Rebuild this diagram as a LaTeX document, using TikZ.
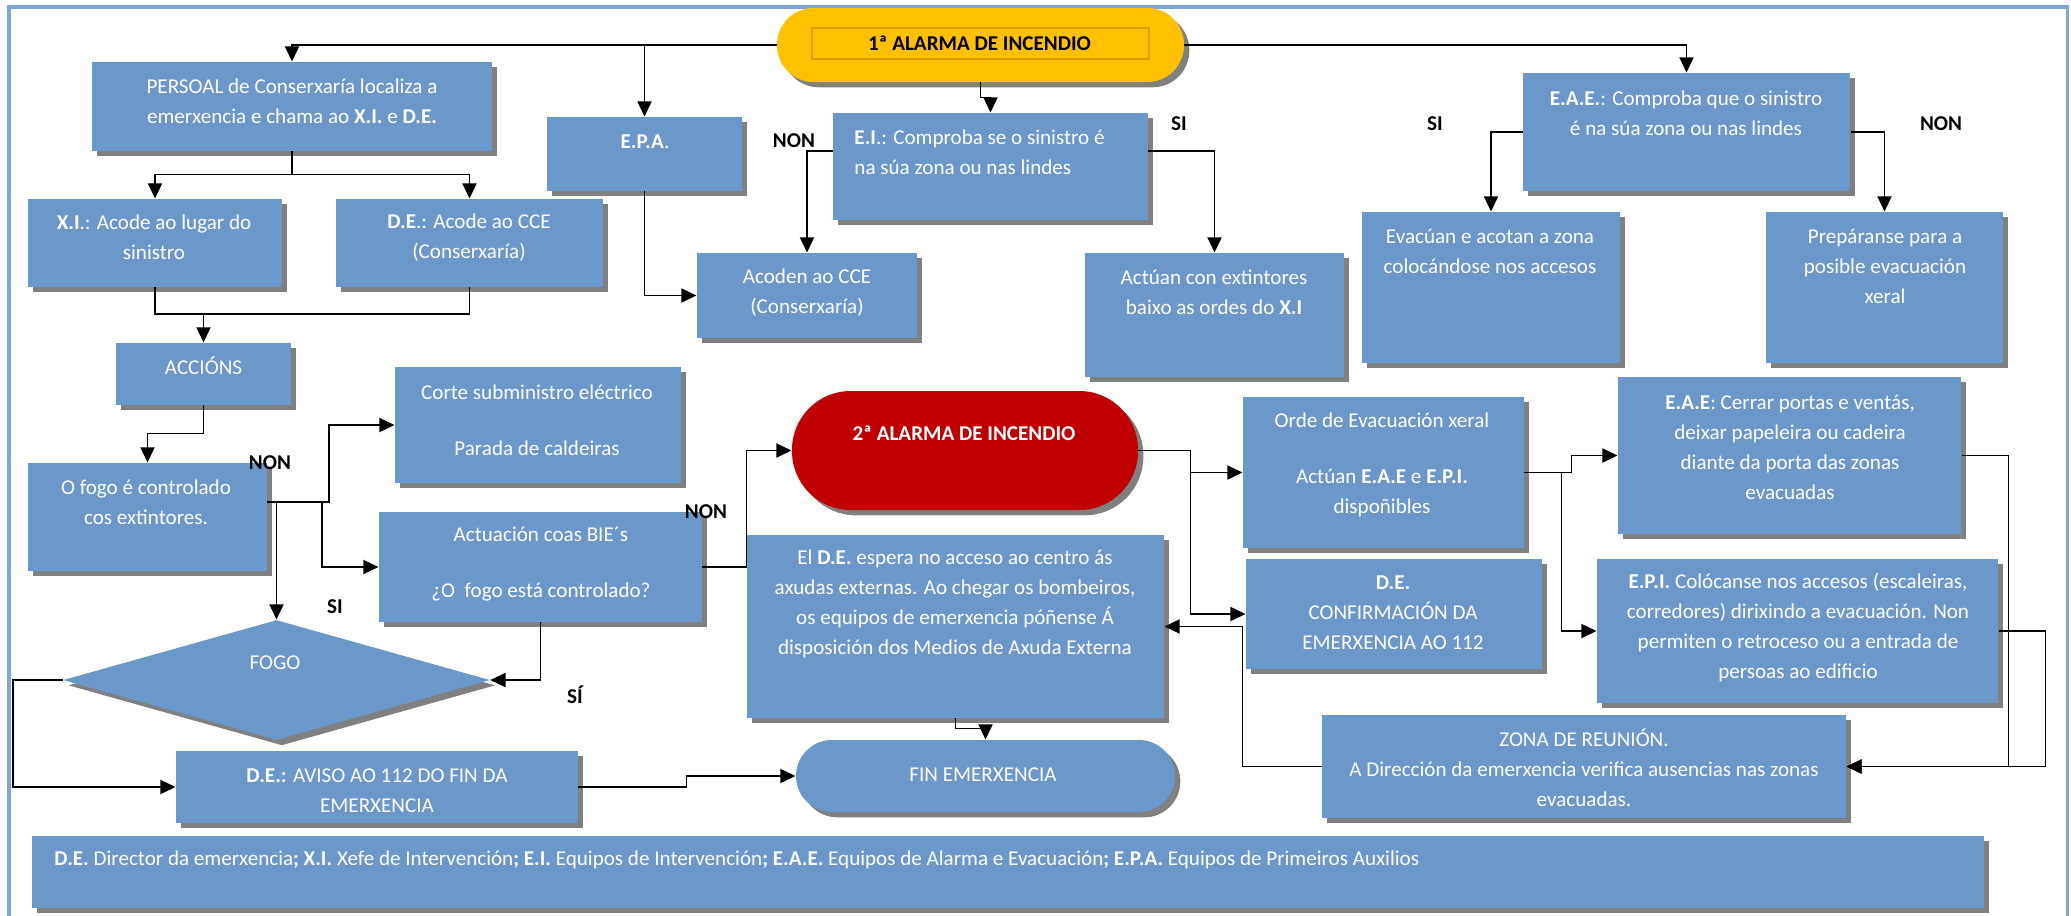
\documentclass[tikz,border=0pt]{standalone}
\usepackage{fontspec}
\setmainfont{Carlito}
\usetikzlibrary{positioning}
\usetikzlibrary{calc}
\usetikzlibrary{arrows.meta}
\usetikzlibrary{shapes.geometric}
\usetikzlibrary{shadows}
\usetikzlibrary{fit}
\definecolor{azulcaixa}{RGB}{106,152,202}
\definecolor{sombra}{RGB}{128,128,128}
\definecolor{amarelo}{RGB}{255,192,0}
\definecolor{ouro}{RGB}{214,160,0}
\definecolor{vermello}{RGB}{192,0,0}
\definecolor{marcoazul}{RGB}{125,165,215}

\tikzset{
  caixa/.style={fill=azulcaixa, inner sep=0, drop shadow={shadow xshift=0.08cm, shadow yshift=-0.08cm, fill=sombra, opacity=1}},
  texto/.style={text=white, align=center, inner sep=0, font=\fontsize{9}{12.8}\selectfont},
  etiqueta/.style={inner sep=0, font=\fontsize{9}{11}\selectfont\bfseries},
  frecha/.style={-{Triangle[length=6.5pt,width=6pt]}, line width=0.8pt},
}

\begin{document}
\begin{tikzpicture}[x=0.015cm, y=-0.015cm]
        \useasboundingbox (0,0) rectangle (2071,915);
        \draw[marcoazul, line width=1.3pt] (9,7) rectangle (2067,930);

        % nodes %
        \node[caixa, fill=amarelo, rounded corners=0.55cm, fit={(777,8) (1184,82)}] (alarma1) {};
        \node[draw=ouro, line width=0.6pt, inner sep=0, fit={(812,28) (1149,59)}] (alarma1marco) {};
        \node[etiqueta] (talarma1) at (979.5,43) {1ª ALARMA DE INCENDIO};

        \node[caixa, fit={(92,62) (492,151)}] (persoal) {};
        \node[texto] (tpersoal) at (292,101) {PERSOAL de Conserxaría localiza a\\emerxencia e chama ao \textbf{X.I.} e \textbf{D.E.}};
        \node[caixa, fit={(547,117) (742,191)}] (epa) {};
        \node[texto] (tepa) at (645,142) {\textbf{E.P.A}.};
        \node[caixa, fit={(833,113) (1148,220)}] (ei) {};
        \node[texto, align=left, anchor=west] (tei) at (854,152) {\textbf{E.I}.: Comproba se o sinistro é\\na súa zona ou nas lindes};
        \node[caixa, fit={(1523,73) (1850,191)}] (eae) {};
        \node[texto] (teae) at (1686,113) {\textbf{E.A.E.}: Comproba que o sinistro\\é na súa zona ou nas lindes};

        \node[caixa, fit={(28,199) (282,287)}] (xi) {};
        \node[texto] (txi) at (154,237.5) {\textbf{X.I}.: Acode ao lugar do\\sinistro};
        \node[caixa, fit={(336,199) (603,287)}] (de) {};
        \node[texto] (tde) at (469,237.5) {\textbf{D.E}.: Acode ao CCE\\(Conserxaría)};
        \node[caixa, fit={(697,253) (917,338)}] (acoden) {};
        \node[texto] (tacoden) at (807,292.5) {Acoden ao CCE\\(Conserxaría)};
        \node[caixa, fit={(1085,253) (1344,377)}] (actuan) {};
        \node[texto] (tactuan) at (1214,292.5) {Actúan con extintores\\baixo as ordes do \textbf{X.I}};
        \node[caixa, fit={(1362,212) (1620,363)}] (evacuan) {};
        \node[texto] (tevacuan) at (1490,251) {Evacúan e acotan a zona\\colocándose nos accesos};
        \node[caixa, fit={(1766,212) (2003,363)}] (preparan) {};
        \node[texto] (tpreparan) at (1885,266) {Prepáranse para a\\posible evacuación\\xeral};

        \node[caixa, fit={(116,343) (291,405)}] (accions) {};
        \node[texto] (taccions) at (203.5,366) {ACCIÓNS};
        \node[caixa, fit={(28,463) (267,571)}] (ofogo) {};
        \node[texto] (tofogo) at (146,502.5) {O fogo é controlado\\cos extintores.};
        \node[caixa, fit={(395,367) (681,483)}] (corte) {};
        \node[texto] (tcorte) at (537,420) {Corte subministro eléctrico\\[11pt]Parada de caldeiras};
        \node[caixa, fit={(379,512) (702,622)}] (bies) {};
        \node[texto] (tbies) at (541,564) {Actuación coas BIE´s\\[11pt]¿O\ \ fogo está controlado?};

        \node[caixa, fill=vermello, rounded corners=0.88cm, fit={(792,391) (1138,510)}] (alarma2) {};
        \node[etiqueta, text=white] (talarma2) at (964,433) {2ª ALARMA DE INCENDIO};
        \node[caixa, fit={(747,535) (1164,718)}] (deespera) {};
        \node[texto] (tdeespera) at (955,604) {El \textbf{D.E.} espera no acceso ao centro ás\\axudas externas. Ao chegar os bombeiros,\\os equipos de emerxencia póñense Á\\disposición dos Medios de Axuda Externa};
        \node[caixa, fit={(1243,397) (1524,548)}] (orde) {};
        \node[texto] (torde) at (1382,464.5) {Orde de Evacuación xeral\\[11pt]Actúan \textbf{E.A.E} e \textbf{E.P.I.}\\dispoñibles};
        \node[caixa, fit={(1246,559) (1542,669)}] (deconf) {};
        \node[texto] (tdeconf) at (1393,612.5) {\textbf{D.E.}\\CONFIRMACIÓN DA\\EMERXENCIA AO 112};
        \node[caixa, fit={(1618,377) (1961,534)}] (eaepechar) {};
        \node[texto] (teaepechar) at (1790,447) {\textbf{E.A.E}: Cerrar portas e ventás,\\deixar papeleira ou cadeira\\diante da porta das zonas\\evacuadas};
        \node[caixa, fit={(1597,559) (1998,703)}] (epi) {};
        \node[texto] (tepi) at (1798,627.5) {\textbf{E.P.I.} Colócanse nos accesos (escaleiras,\\corredores) dirixindo a evacuación. Non\\permiten o retroceso ou a entrada de\\persoas ao edificio};
        \node[caixa, fit={(1322,715) (1846,818)}] (zona) {};
        \node[texto] (tzona) at (1584,768) {ZONA DE REUNIÓN.\\A Dirección da emerxencia verifica ausencias nas zonas\\evacuadas.};

        \node[caixa, diamond, minimum width=6.4cm, minimum height=1.8cm] (fogo) at (276.5,680) {};
        \node[texto] (tfogo) at (275,663) {FOGO};
        \node[caixa, fit={(176,751) (578,823)}] (aviso) {};
        \node[texto] (taviso) at (377,790.5) {\textbf{D.E.:} AVISO AO 112 DO FIN DA\\EMERXENCIA};
        \node[caixa, rounded corners=0.54cm, fit={(796,740) (1175,812)}] (fin) {};
        \node[texto] (tfin) at (983,775) {FIN EMERXENCIA};

        \node[caixa, fit={(32,836) (1984,908)}] (lenda) {};
        \node[texto, anchor=west] (tlenda) at (54,860) {\textbf{D.E.} Director da emerxencia\textbf{;} \textbf{X.I.} Xefe de Intervención\textbf{;} \textbf{E.I.} Equipos de Intervención\textbf{;} \textbf{E.A.E.} Equipos de Alarma e Evacuación\textbf{;} \textbf{E.P.A.} Equipos de Primeiros Auxilios};

        % labels %
        \node[etiqueta] (non1) at (794,141) {NON};
        \node[etiqueta] (si1) at (1179,124) {SI};
        \node[etiqueta] (si2) at (1435,124) {SI};
        \node[etiqueta] (non2) at (1941,124) {NON};
        \node[etiqueta] (non3) at (270,463) {NON};
        \node[etiqueta] (si3) at (335,607) {SI};
        \node[etiqueta] (non4) at (706,512) {NON};
        \node[etiqueta] (si4) at (575,695) {SÍ};

        % edges %
        \draw[frecha] (alarma1.west) -| (persoal.north);
        \draw[frecha] (alarma1.west) -| (epa.north);
        \draw[frecha] (alarma1.east) -| (eae.north);
        \draw[frecha] (alarma1.south) -- ++(0,15) -| (ei.north);
        \draw[frecha] (persoal.south) -- ++(0,23) -| (xi.north);
        \draw[frecha] (persoal.south) -- ++(0,23) -| (de.north);
        \draw[frecha] (epa.south) |- (acoden.west);
        \coordinate (einon) at (807,151);
        \draw[frecha] (ei.west |- einon) -| (acoden.north);
        \draw[frecha] (ei.east |- einon) -| (actuan.north);
        \draw[frecha] (eae.west) -| (evacuan.north);
        \draw[frecha] (eae.east) -| (preparan.north);
        \coordinate (xiunion) at (203.5,314);
        \draw[line width=0.8pt] (xi.south) |- (xiunion) -| (de.south);
        \draw[frecha] (xiunion) -- (accions.north);
        \draw[frecha] (accions.south) -- ++(0,28) -| (ofogo.north);
        \coordinate (nonfogo) at (329,502);
        \coordinate (nonbie) at (322,502);
        \draw[frecha] (ofogo.east |- nonfogo) -- (nonfogo) |- (corte.west);
        \draw[frecha] (nonbie) |- (bies.west);
        \draw[frecha] (fogo.north |- nonfogo) -- (fogo.north);
        \draw[frecha] (bies.east) -- ++(44,0) |- (alarma2.west);
        \draw[frecha] (bies.south) |- (fogo.east);
        \draw[frecha] (fogo.west) -- ++(-50,0) |- (aviso.west);
        \draw[frecha] (aviso.east) -- ++(108,0) |- (fin.west);
        \draw[frecha] (deespera.south) -- ++(0,10) -| (fin.north);
        \draw[frecha] (alarma2.east) -- ++(52,0) |- (orde.west);
        \draw[frecha] (alarma2.east) -- ++(52,0) |- (deconf.west);
        \draw[frecha] (zona.west) -- ++(-79,0) |- (deespera.east);
        \draw[frecha] (orde.east) -- ++(47,0) |- (eaepechar.west);
        \draw[frecha] (orde.east) -- ++(37,0) |- (epi.west);
        \draw[frecha] (eaepechar.east) -- ++(47,0) |- (zona.east);
        \draw[frecha] (epi.east) -- ++(47,0) |- (zona.east);
\end{tikzpicture}
\end{document}
